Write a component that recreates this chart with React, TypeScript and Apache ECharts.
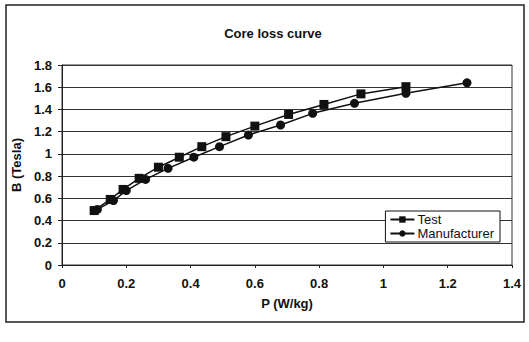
import React, { useEffect, useRef } from "react";
import * as echarts from "echarts";

const testP = [0.1, 0.15, 0.19, 0.24, 0.3, 0.365, 0.435, 0.51, 0.6, 0.705, 0.815, 0.93, 1.07];
const testB = [0.49, 0.59, 0.68, 0.78, 0.88, 0.97, 1.065, 1.155, 1.25, 1.355, 1.445, 1.54, 1.605];
const manuP = [0.11, 0.16, 0.2, 0.26, 0.33, 0.41, 0.49, 0.58, 0.68, 0.78, 0.91, 1.07, 1.26];
const manuB = [0.5, 0.58, 0.67, 0.77, 0.87, 0.97, 1.065, 1.17, 1.26, 1.365, 1.455, 1.545, 1.64];

const font = "Arial, 'Liberation Sans', sans-serif";

export default function App() {
  const ref = useRef<HTMLDivElement>(null);
  useEffect(() => {
    if (!ref.current) return;
    const chart = echarts.init(ref.current, undefined, { renderer: "svg" });
    chart.setOption({
      animation: false,
      backgroundColor: "#fff",
      title: {
        text: "Core loss curve",
        left: 268,
        textAlign: "center",
        top: 22,
        textStyle: { fontFamily: font, fontSize: 13, fontWeight: "bold", color: "#111" },
      },
      graphic: [
        {
          type: "rect",
          shape: { x: 6, y: 5, width: 518, height: 317 },
          style: { fill: "none", stroke: "#222", lineWidth: 1.5 },
          silent: true,
        },
      ],
      legend: {
        right: 29,
        top: 211,
        orient: "vertical",
        itemGap: 1,
        itemWidth: 24,
        itemHeight: 8,
        padding: [2, 6, 2, 4],
        borderColor: "#111",
        borderWidth: 1,
        backgroundColor: "#fff",
        textStyle: { fontFamily: font, fontSize: 13, color: "#111", padding: [0, 0, 0, -2] },
        data: ["Test", "Manufacturer"],
      },
      grid: {
        left: 62,
        right: 17,
        top: 65,
        bottom: 77,
        show: true,
        borderColor: "#333",
        borderWidth: 1,
        backgroundColor: "transparent",
      },
      xAxis: {
        type: "value",
        min: 0,
        max: 1.4,
        interval: 0.2,
        name: "P (W/kg)",
        nameLocation: "middle",
        nameGap: 32,
        nameTextStyle: { fontFamily: font, fontSize: 13, fontWeight: "bold", color: "#111" },
        axisLine: { show: true, onZero: false, lineStyle: { color: "#222", width: 1 } },
        axisTick: { show: true, inside: false, length: 3, lineStyle: { color: "#222" } },
        axisLabel: { fontFamily: font, fontSize: 13, fontWeight: "bold", color: "#111", margin: 12 },
        splitLine: { show: false },
      },
      yAxis: {
        type: "value",
        min: 0,
        max: 1.8,
        interval: 0.2,
        name: "B (Tesla)",
        nameLocation: "middle",
        nameGap: 38,
        nameTextStyle: { fontFamily: font, fontSize: 13, fontWeight: "bold", color: "#111" },
        axisLine: { show: true, lineStyle: { color: "#222", width: 1 } },
        axisTick: { show: true, length: 4, lineStyle: { color: "#222" } },
        axisLabel: { fontFamily: font, fontSize: 13, fontWeight: "bold", color: "#111", margin: 10 },
        splitLine: { show: true, lineStyle: { color: "#333", width: 1 } },
      },
      series: [
        {
          name: "Test",
          type: "line",
          data: testP.map((p, i) => [p, testB[i]]),
          symbol: "rect",
          symbolSize: 9,
          lineStyle: { color: "#111", width: 1.5 },
          itemStyle: { color: "#111" },
        },
        {
          name: "Manufacturer",
          type: "line",
          data: manuP.map((p, i) => [p, manuB[i]]),
          symbol: "circle",
          symbolSize: 9,
          lineStyle: { color: "#111", width: 1.5 },
          itemStyle: { color: "#111" },
        },
      ],
    });
    return () => chart.dispose();
  }, []);
  return <div ref={ref} style={{ width: 529, height: 342, position: "absolute", left: 0, top: 0 }} />;
}
